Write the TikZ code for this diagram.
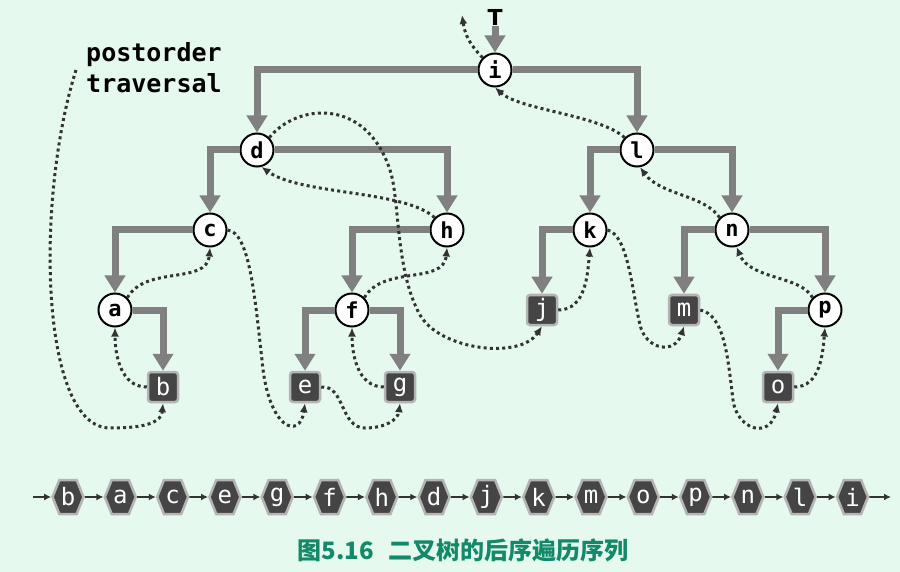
\documentclass[tikz,border=0pt]{standalone}
\usepackage{fontspec}
\setmonofont{DejaVu Sans Mono}
\setsansfont{DejaVu Sans}
\newfontfamily\cjk{Noto Sans CJK SC}
\usepackage{tikz}
\usetikzlibrary{shapes.geometric,shapes.symbols,arrows.meta,positioning}
\definecolor{mintbg}{HTML}{E5F9EF}
\definecolor{linkgray}{HTML}{808080}
\definecolor{leafgray}{HTML}{454545}
\definecolor{leafedge}{HTML}{B4B4B4}
\definecolor{threadgray}{HTML}{333333}
\definecolor{captiongreen}{HTML}{13896A}

\begin{document}
\begin{tikzpicture}[x=1pt, y=1pt,
  inner/.style={circle, draw=black, line width=2pt, fill=white, minimum size=33pt, inner sep=0pt,
    font=\fontsize{22}{22}\ttfamily\bfseries},
  leaf/.style={rectangle, rounded corners=3pt, draw=leafedge, line width=2.5pt, fill=leafgray,
    minimum size=30pt, inner sep=0pt, text=white, font=\fontsize{24}{24}\ttfamily},
  seq/.style={signal, signal to=east and west, signal from=nowhere, signal pointer angle=136,
    draw=leafedge, line width=2.5pt, fill=leafgray, minimum width=31pt, minimum height=34pt,
    inner sep=0pt, text=white, font=\fontsize{24}{24}\ttfamily},
  link/.style={draw=linkgray, line width=7pt, -{Triangle[width=20pt,length=17pt]}},
  thread/.style={draw=threadgray, line width=3pt, dash pattern=on 3pt off 3.2pt,
    -{Latex[length=9pt,width=8pt]}},
  chain/.style={draw=threadgray, line width=1.8pt, -{Latex[length=7pt,width=7pt]}}
]
\fill[mintbg] (0,0) rectangle (900,-572);
\useasboundingbox (0,0) rectangle (900,-572);

% tree
\node[inner] (i) at (495,-70) {i};
\node[inner] (d) at (257,-150) {d};
\node[inner] (l) at (637,-150) {l};
\node[inner] (c) at (210,-230) {c};
\node[inner] (h) at (447,-230) {h};
\node[inner] (k) at (590,-230) {k};
\node[inner] (n) at (732,-230) {n};
\node[inner] (a) at (115,-310) {a};
\node[inner] (f) at (352,-310) {f};
\node[leaf] (j) at (542,-310) {j};
\node[leaf] (m) at (684,-310) {m};
\node[inner] (p) at (825,-310) {p};
\node[leaf] (b) at (163,-387) {b};
\node[leaf] (e) at (305,-387) {e};
\node[leaf] (g) at (400,-387) {g};
\node[leaf] (o) at (778,-387) {o};

\node[font=\fontsize{22}{22}\sffamily\bfseries, inner sep=1pt] (T) at (495,-17) {T};
\node[anchor=north west, align=left, inner sep=0pt, font=\fontsize{25}{31}\ttfamily\bfseries]
  (title) at (86,-42) {postorder\\traversal};
\coordinate (start) at (76,-70);
\coordinate (exit) at (462,-15);

\draw[link] (T) -- (i);
\foreach \u/\v in {i/d,i/l,d/c,d/h,l/k,l/n,c/a,a/b,h/f,f/e,f/g,k/j,n/m,n/p,p/o}
  \draw[link] (\u) -| (\v);

% postorder thread
\draw[thread] (start) .. controls (35,-200) and (40,-428) .. (110,-428) to[out=0, in=-95] (b.south);
\draw[thread] (b.west) to[out=180, in=-90] (a.south);
\draw[thread] (a.north east) to[out=60, in=-95] (c.south);
\draw[thread] (c.east) .. controls (250,-232) and (255,-300) .. (262,-360)
  .. controls (268,-430) and (300,-440) .. (e.south);
\draw[thread] (e.east) .. controls (345,-385) and (340,-428) .. (365,-428)
  .. controls (385,-428) and (398,-420) .. (g.south);
\draw[thread] (g.west) to[out=180, in=-90] (f.south);
\draw[thread] (f.north east) to[out=60, in=-95] (h.south);
\draw[thread] (h.north west) .. controls (405,-190) and (300,-195) .. (d.-75);
\draw[thread] (d.north east) .. controls (295,-105) and (365,-95) .. (390,-170)
  .. controls (400,-200) and (395,-270) .. (420,-315)
  .. controls (440,-350) and (520,-360) .. (j.south);
\draw[thread] (j.east) to[out=0, in=-95] (k.south);
\draw[thread] (k.east) .. controls (628,-235) and (632,-290) .. (640,-325)
  .. controls (646,-350) and (675,-355) .. (m.south);
\draw[thread] (m.east) .. controls (725,-315) and (728,-360) .. (733,-400)
  .. controls (737,-430) and (770,-440) .. (o.south);
\draw[thread] (o.east) to[out=0, in=-95] (p.south);
\draw[thread] (p.north west) .. controls (800,-275) and (750,-280) .. (n.-75);
\draw[thread] (n.north west) .. controls (705,-195) and (660,-195) .. (l.-80);
\draw[thread] (l.north west) .. controls (600,-115) and (520,-110) .. (i.south);
\draw[thread] (i.north west) .. controls (470,-45) and (465,-35) .. (exit);

% sequence
\coordinate (seqin) at (33,-497);
\coordinate (seqout) at (891,-497);
\foreach \lbl [count=\k] in {b,a,c,e,g,f,h,d,j,k,m,o,p,n,l,i}
  \node[seq] (s\k) at ({68+52.3*(\k-1)},-497) {\lbl};
\draw[chain] (seqin) -- (s1);
\foreach \k [count=\nxt from 2] in {1,...,15}
  \draw[chain] (s\k) -- (s\nxt);
\draw[chain] (s16) -- (seqout);

\node[text=captiongreen, font=\fontsize{24}{24}\cjk\bfseries] (caption) at (463,-550) {图5.16\hspace{0.6em}二叉树的后序遍历序列};
\end{tikzpicture}
\end{document}
